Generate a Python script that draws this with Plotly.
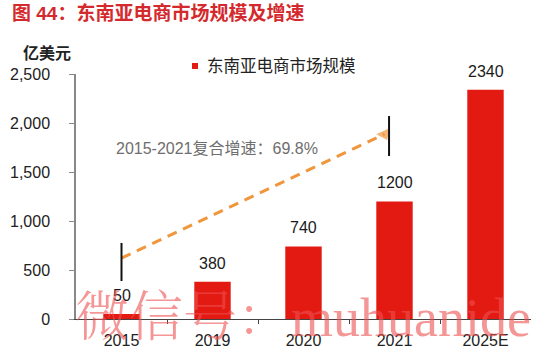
import plotly.graph_objects as go

categories = ["2015", "2019", "2020", "2021", "2025E"]
market_size = [50, 380, 740, 1200, 2340]
value_labels = ["50", "380", "740", "1200", "2340"]
y_ticks = [0, 500, 1000, 1500, 2000, 2500]

series_name = "东南亚电商市场规模"
title_text = "图 44：东南亚电商市场规模及增速"
unit_text = "亿美元"
cagr_text = "2015-2021复合增速：69.8%"
watermark_text = "微信号：muhuanide"

# growth arrow (index on category axis, value on y axis)
arrow_x = [0.0, 2.89]
arrow_y = [622, 1887]
marker_left = [0.0, 388, 776]     # x, y0, y1
marker_right = [2.94, 1663, 2071]
cagr_pos = [1.05, 1735]

FONT = "Liberation Sans, Arial, Noto Sans CJK SC, sans-serif"
RED = "#E31A12"

W, H = 549, 356
# plot area in window pixels
L, R, T, B = 76, 531, 74, 319


def px(x):
    return (x - L) / (R - L)


def py(y):
    return (B - y) / (B - T)


xs = list(range(len(categories)))

fig = go.Figure()
fig.add_trace(go.Bar(
    x=xs, y=market_size, width=0.4, marker_color=RED,
    marker_line_width=0, name=series_name, showlegend=False,
))
fig.add_trace(go.Scatter(
    x=arrow_x, y=arrow_y, mode="lines+markers",
    line=dict(color="#F0963C", width=3, dash="10px,7px"),
    marker=dict(symbol=["circle", "triangle-right"], size=[0, 13],
                angleref="previous", color="#F0963C", line_width=0),
    showlegend=False, hoverinfo="skip", cliponaxis=False,
))

annotations = []
for xi, v, t in zip(xs, market_size, value_labels):
    annotations.append(dict(
        x=xi, y=v, text=t, showarrow=False, xanchor="center", yanchor="bottom", yshift=8,
        font=dict(size=16, color="#1a1a1a", family=FONT),
    ))
annotations.append(dict(
    x=cagr_pos[0], y=cagr_pos[1], text=cagr_text, showarrow=False,
    xanchor="center", yanchor="middle",
    font=dict(size=16, color="#6e6e6e", family=FONT),
))
annotations.append(dict(
    xref="paper", yref="paper", x=px(47), y=py(53), text="<b>" + unit_text + "</b>",
    showarrow=False, xanchor="center", yanchor="middle",
    font=dict(size=16, color="#222", family=FONT),
))
annotations.append(dict(
    xref="paper", yref="paper", x=px(205), y=py(66), xanchor="left", yanchor="middle",
    text=series_name, showarrow=False,
    font=dict(size=16.5, color="#222", family=FONT),
))
annotations.append(dict(
    xref="paper", yref="paper", x=px(303), y=py(318), text=watermark_text,
    showarrow=False, xanchor="center", yanchor="middle",
    font=dict(size=54, color="rgba(238,80,80,0.6)",
              family="Liberation Serif, Noto Serif CJK SC, Noto Sans CJK SC, serif",
              weight=300),
))

shapes = [
    dict(type="line", x0=marker_left[0], x1=marker_left[0], y0=marker_left[1], y1=marker_left[2],
         line=dict(color="#111", width=2)),
    dict(type="line", x0=marker_right[0], x1=marker_right[0], y0=marker_right[1], y1=marker_right[2],
         line=dict(color="#111", width=2)),
    dict(type="rect", xref="paper", yref="paper", x0=px(192), x1=px(198),
         y0=py(69), y1=py(63), fillcolor=RED, line_width=0),
]

fig.update_layout(
    width=W, height=H,
    margin=dict(l=L, r=W - R, t=T, b=H - B, autoexpand=False),
    paper_bgcolor="white", plot_bgcolor="white",
    title=dict(text="<b>" + title_text + "</b>", xref="container", yref="container",
               x=12 / W, xanchor="left", y=1 - 13 / H, yanchor="middle",
               font=dict(size=19, color="#D42A2E", family=FONT)),
    font=dict(family=FONT, size=16, color="#222"),
    annotations=annotations, shapes=shapes, showlegend=False,
)
fig.update_xaxes(
    range=[-0.5, 4.5], tickvals=xs, ticktext=categories, ticks="",
    showgrid=False, zeroline=False, showline=True, linecolor="#444", linewidth=1,
    tickfont=dict(size=16, color="#222"), ticklabelstandoff=7, automargin=False,
    minor=dict(tickvals=[i + 0.5 for i in xs[:-1]], ticks="outside", ticklen=4,
               tickcolor="#444", showgrid=False),
    fixedrange=True,
)
fig.update_yaxes(
    range=[0, 2500], tickvals=y_ticks, tickformat=",", ticks="outside", ticklen=5,
    tickcolor="#888", showgrid=False, zeroline=False, showline=True,
    linecolor="#888", linewidth=1.5, tickfont=dict(size=16, color="#222"),
    ticklabelstandoff=16, automargin=False, fixedrange=True,
)

fig.write_html("out.html", config={"displayModeBar": False},
               post_script="document.body.style.margin='0';")
